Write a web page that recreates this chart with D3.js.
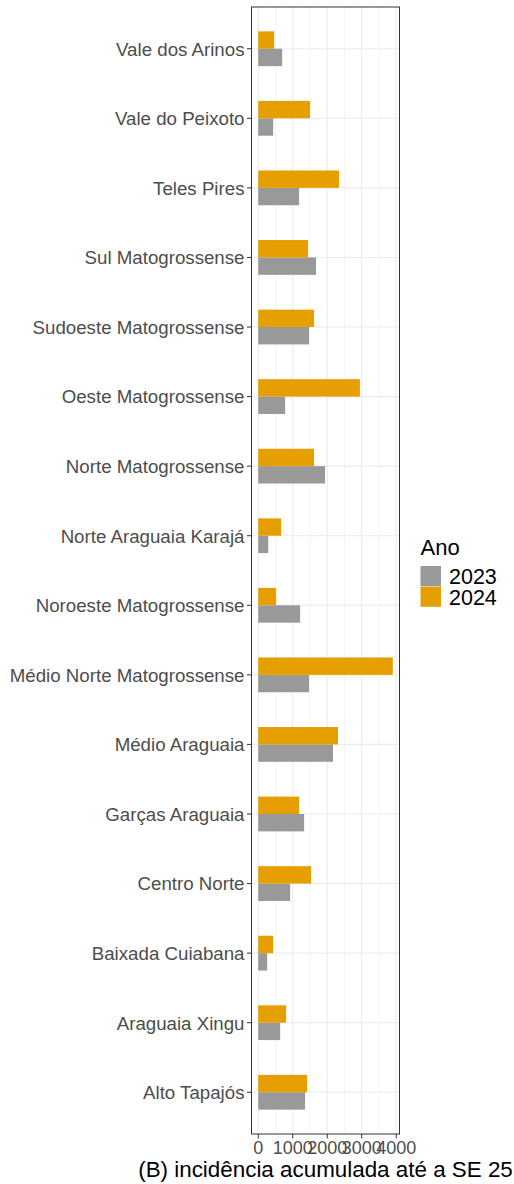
<!DOCTYPE html>
<html><head><meta charset="utf-8">
<script src="https://cdn.jsdelivr.net/npm/d3@7"></script>
<style>html,body{margin:0;padding:0;background:#fff;}svg{display:block;font-family:"Liberation Sans",Arial,sans-serif;}</style>
</head><body>
<script>
const categories = ["Alto Tapajós","Araguaia Xingu","Baixada Cuiabana","Centro Norte","Garças Araguaia","Médio Araguaia","Médio Norte Matogrossense","Noroeste Matogrossense","Norte Araguaia Karajá","Norte Matogrossense","Oeste Matogrossense","Sudoeste Matogrossense","Sul Matogrossense","Teles Pires","Vale do Peixoto","Vale dos Arinos"];
const values2023 = [1358,636,260,925,1330,2168,1474,1214,290,1936,780,1474,1676,1185,434,694];
const values2024 = [1416,809,434,1532,1185,2312,3900,520,665,1618,2948,1618,1445,2341,1503,462];
const years = ["2023","2024"];
const colors = ["#999999","#E69F00"];
const xTicks = [0,1000,2000,3000,4000];
const xMinor = [500,1500,2500,3500];
const xTitle = "(B) incidência acumulada até a SE 25";
const legendTitle = "Ano";

const W=514,H=1184;
const P={l:251.5,r:399.5,t:7,b:1134};
const svg=d3.select("body").append("svg").attr("width",W).attr("height",H);

const maxV=d3.max(values2023.concat(values2024));
const x=d3.scaleLinear().domain([-0.05*maxV,maxV*1.05]).range([P.l,P.r]);
const y=d3.scalePoint().domain(categories.slice().reverse()).range([P.t,P.b]).padding(0.6);
const step=y.step();
const sub=d3.scaleBand().domain(["2024","2023"]).range([-step*0.25,step*0.25]);

const g=svg.append("g");
// grid
g.selectAll(".mn").data(xMinor).join("line").attr("x1",d=>x(d)).attr("x2",d=>x(d)).attr("y1",P.t).attr("y2",P.b).attr("stroke","#EBEBEB").attr("stroke-width",0.55);
g.selectAll(".mj").data(xTicks).join("line").attr("x1",d=>x(d)).attr("x2",d=>x(d)).attr("y1",P.t).attr("y2",P.b).attr("stroke","#EBEBEB").attr("stroke-width",1.1);
g.selectAll(".hy").data(categories).join("line").attr("x1",P.l).attr("x2",P.r).attr("y1",d=>y(d)).attr("y2",d=>y(d)).attr("stroke","#EBEBEB").attr("stroke-width",1.1);

// bars
const rows=[];
categories.forEach((c,i)=>{rows.push({c,yr:"2023",v:values2023[i]});rows.push({c,yr:"2024",v:values2024[i]});});
g.selectAll(".bar").data(rows).join("rect")
 .attr("x",x(0)).attr("width",d=>x(d.v)-x(0))
 .attr("y",d=>y(d.c)+sub(d.yr)).attr("height",sub.bandwidth())
 .attr("fill",d=>colors[years.indexOf(d.yr)]);

// border
svg.append("rect").attr("x",P.l).attr("y",P.t).attr("width",P.r-P.l).attr("height",P.b-P.t).attr("fill","none").attr("stroke","#333333").attr("stroke-width",1);

// y axis
const ya=svg.append("g");
ya.selectAll("line").data(categories).join("line").attr("x1",P.l-4.5).attr("x2",P.l).attr("y1",d=>y(d)).attr("y2",d=>y(d)).attr("stroke","#333333").attr("stroke-width",1);
ya.selectAll("text").data(categories).join("text").attr("x",P.l-7).attr("y",d=>y(d)).attr("dy","0.37em").attr("text-anchor","end").attr("font-size",18.7).attr("fill","#4D4D4D").text(d=>d);

// x axis
const xa=svg.append("g");
xa.selectAll("line").data(xTicks).join("line").attr("x1",d=>x(d)).attr("x2",d=>x(d)).attr("y1",P.b).attr("y2",P.b+4.5).attr("stroke","#333333").attr("stroke-width",1);
xa.selectAll("text").data(xTicks).join("text").attr("x",d=>x(d)).attr("y",1153.5).attr("text-anchor","middle").attr("font-size",18).attr("fill","#4D4D4D").text(d=>d);

svg.append("text").attr("x",(P.l+P.r)/2).attr("y",1177).attr("text-anchor","middle").attr("font-size",22.4).attr("fill","#000").text(xTitle);

// legend
const lg=svg.append("g");
lg.append("text").attr("x",420.5).attr("y",555).attr("font-size",22).attr("fill","#000").text(legendTitle);
years.forEach((yr,i)=>{
  lg.append("rect").attr("x",420.5).attr("y",566+i*20.6).attr("width",20.5).attr("height",20.2).attr("fill",colors[i]);
  lg.append("text").attr("x",449).attr("y",584+i*20.6).attr("font-size",21.5).attr("fill","#000").text(yr);
});
</script>
</body></html>
